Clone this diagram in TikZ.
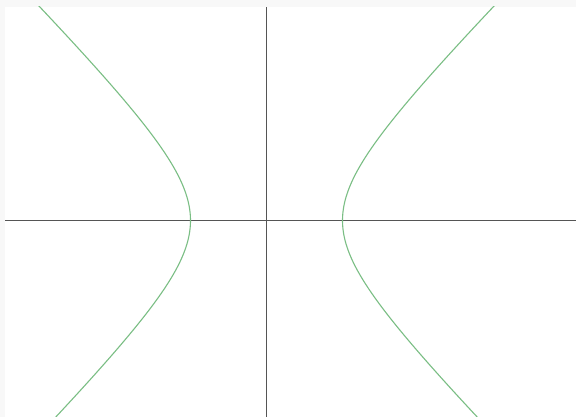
\documentclass[tikz,border=0pt]{standalone}
\definecolor{margin}{RGB}{248,248,248}
\definecolor{axisgray}{RGB}{85,85,85}
\definecolor{curvegreen}{RGB}{122,190,132}
\tikzset{
  axisline/.style={draw=axisgray, line width=0.9pt},
  curveline/.style={draw=curvegreen, line width=1.1pt, smooth, samples=120}
}
\begin{document}
\begin{tikzpicture}[x=1pt,y=1pt]
  \fill[margin] (0,0) rectangle (576,417);
  \fill[white] (5,0) rectangle (576,410);
  \useasboundingbox (0,0) rectangle (576,417);
  \begin{scope}
    \clip (5,0) rectangle (576,410);
    \coordinate (O) at (266.5,196.5);
    \coordinate (xl) at (5,196.5);
    \coordinate (xr) at (576,196.5);
    \coordinate (yb) at (266.5,0);
    \coordinate (yt) at (266.5,410);
    \draw[axisline] (xl) -- (xr);
    \draw[axisline] (yb) -- (yt);
    \draw[curveline, domain=-2:2] plot ({266.5+76*cosh(\x)},{196.5+76*sinh(\x)});
    \draw[curveline, domain=-2:2] plot ({266.5-76*cosh(\x)},{196.5+76*sinh(\x)});
  \end{scope}
\end{tikzpicture}
\end{document}
